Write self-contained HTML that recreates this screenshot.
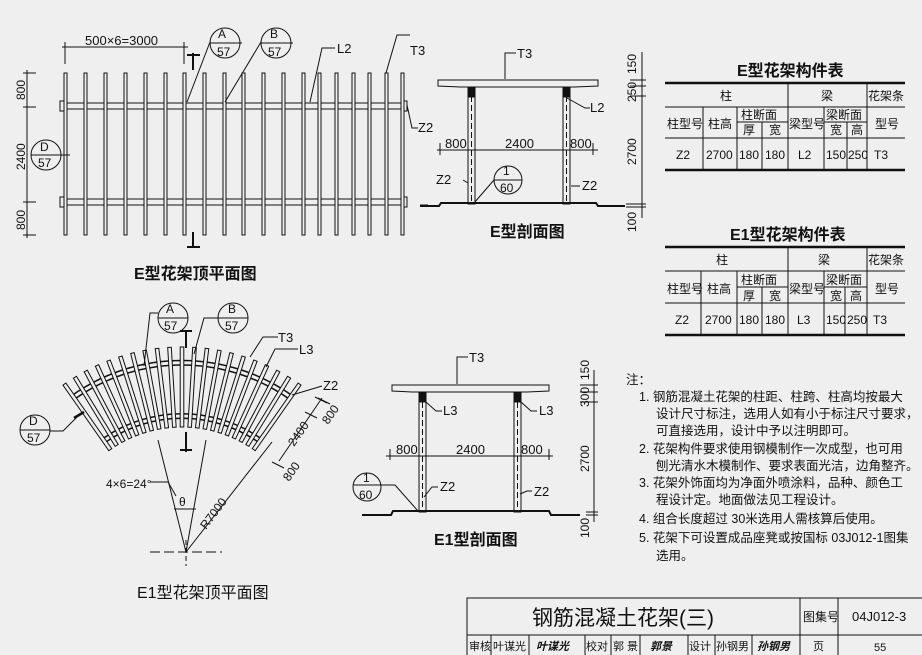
<!DOCTYPE html>
<html><head><meta charset="utf-8"><style>
html,body{margin:0;padding:0;background:#efefef;}
svg{display:block;}
text{font-family:"Liberation Sans","Noto Sans CJK SC",sans-serif;fill:#111;}
</style></head><body>
<svg width="922" height="655" viewBox="0 0 922 655" xmlns="http://www.w3.org/2000/svg">
<rect width="922" height="655" fill="#efefef"/>
<g stroke="#111" fill="none" stroke-width="1">
<rect x="62" y="103" width="343" height="6" fill="#efefef"/>
<rect x="62" y="199" width="343" height="6" fill="#efefef"/>
<rect x="60" y="101" width="4" height="10" fill="#efefef"/><rect x="403" y="101" width="4" height="10" fill="#efefef"/>
<rect x="60" y="197" width="4" height="10" fill="#efefef"/><rect x="403" y="197" width="4" height="10" fill="#efefef"/>
<g fill="#efefef">
<rect x="64" y="73" width="3" height="162"/><rect x="84" y="73" width="3" height="162"/><rect x="104" y="73" width="3" height="162"/>
<rect x="124" y="73" width="3" height="162"/><rect x="144" y="73" width="3" height="162"/><rect x="164" y="73" width="3" height="162"/>
<rect x="183" y="73" width="3" height="162"/><rect x="203" y="73" width="3" height="162"/><rect x="223" y="73" width="3" height="162"/>
<rect x="242" y="73" width="3" height="162"/><rect x="262" y="73" width="3" height="162"/><rect x="282" y="73" width="3" height="162"/>
<rect x="302" y="73" width="3" height="162"/><rect x="318" y="73" width="3" height="162"/><rect x="335" y="73" width="3" height="162"/>
<rect x="352" y="73" width="3" height="162"/><rect x="368" y="73" width="3" height="162"/><rect x="385" y="73" width="3" height="162"/>
<rect x="401" y="73" width="3" height="162"/>
</g>
<line x1="62" y1="47" x2="188" y2="47"/><line x1="65" y1="42" x2="65" y2="64"/><line x1="184" y1="42" x2="184" y2="64"/>
<line x1="27" y1="70" x2="27" y2="238"/>
<line x1="23" y1="73" x2="36" y2="73"/><line x1="23" y1="107" x2="36" y2="107"/><line x1="23" y1="202" x2="36" y2="202"/><line x1="23" y1="235" x2="36" y2="235"/>
<line x1="193" y1="53" x2="193" y2="70" stroke-width="2"/><line x1="187" y1="55" x2="200" y2="55" stroke-width="2"/>
<line x1="193" y1="232" x2="193" y2="248" stroke-width="2"/><line x1="187" y1="247" x2="200" y2="247" stroke-width="2"/>
<circle cx="225" cy="43" r="15"/><line x1="210" y1="43" x2="242" y2="43"/><polyline points="210,42 187,102"/>
<circle cx="276" cy="43" r="15"/><line x1="261" y1="43" x2="293" y2="43"/><polyline points="261,42 225,102"/>
<circle cx="46" cy="155" r="15"/><line x1="31" y1="155" x2="70" y2="155"/>
<polyline points="310,102 322,48 335,48"/>
<polyline points="386,73 397,35 410,35"/>
<polyline points="407,105 412,128 418,128"/>
<line x1="420" y1="205" x2="428" y2="205"/>
<path d="M438,80 L598,80 L598,86 L575,87 L460,87 L438,86 Z" fill="#efefef"/>
<rect x="468" y="87" width="7" height="117" fill="#efefef"/><rect x="563" y="87" width="7" height="117" fill="#efefef"/>
<line x1="471.5" y1="96" x2="471.5" y2="204" stroke-dasharray="6,3"/><line x1="566.5" y1="96" x2="566.5" y2="204" stroke-dasharray="6,3"/>
<rect x="468" y="87" width="7" height="10" fill="#111"/><rect x="563" y="87" width="7" height="10" fill="#111"/>
<polyline points="420,206 439,206 441,203 596,203 598,206 625,206" stroke-width="2"/>
<line x1="437" y1="150" x2="598" y2="150"/>
<line x1="440" y1="143" x2="440" y2="155"/><line x1="593" y1="143" x2="593" y2="155"/>
<polyline points="505,79 505,53 516,53"/>
<polyline points="567,98 585,108 590,108"/>
<polyline points="463,180 468,183"/><polyline points="571,186 580,186"/>
<circle cx="508" cy="180" r="14"/><line x1="494" y1="180" x2="522" y2="180"/><polyline points="494,180 474,203"/>
<line x1="642" y1="52" x2="642" y2="218"/>
<line x1="630" y1="80" x2="646" y2="80"/><line x1="630" y1="86" x2="646" y2="86"/><line x1="630" y1="96" x2="646" y2="96"/><line x1="626" y1="204" x2="646" y2="204"/><line x1="626" y1="207" x2="646" y2="207"/>
<line x1="665" y1="83" x2="905" y2="83" stroke-width="2.5"/>
<line x1="665" y1="170" x2="905" y2="170" stroke-width="2.5"/>
<line x1="665" y1="107" x2="905" y2="107"/><line x1="665" y1="138" x2="905" y2="138"/>
<line x1="737" y1="122" x2="788" y2="122"/><line x1="824" y1="122" x2="867" y2="122"/>
<line x1="703" y1="107" x2="703" y2="170"/><line x1="737" y1="107" x2="737" y2="170"/><line x1="762" y1="122" x2="762" y2="170"/>
<line x1="788" y1="83" x2="788" y2="170"/><line x1="824" y1="107" x2="824" y2="170"/><line x1="847" y1="122" x2="847" y2="170"/><line x1="867" y1="83" x2="867" y2="170"/>
<line x1="665" y1="247" x2="905" y2="247" stroke-width="2.5"/>
<line x1="665" y1="335" x2="905" y2="335" stroke-width="2.5"/>
<line x1="665" y1="271" x2="905" y2="271"/><line x1="665" y1="303" x2="905" y2="303"/>
<line x1="737" y1="287" x2="788" y2="287"/><line x1="824" y1="287" x2="867" y2="287"/>
<line x1="701" y1="271" x2="701" y2="335"/><line x1="737" y1="271" x2="737" y2="335"/><line x1="762" y1="287" x2="762" y2="335"/>
<line x1="788" y1="247" x2="788" y2="335"/><line x1="824" y1="271" x2="824" y2="335"/><line x1="845" y1="287" x2="845" y2="335"/><line x1="867" y1="247" x2="867" y2="335"/>
<path d="M392,385 L549,385 L549,391 L527,392 L412,392 L392,391 Z" fill="#efefef"/>
<rect x="419" y="392" width="7" height="120" fill="#efefef"/><rect x="514" y="392" width="7" height="120" fill="#efefef"/>
<line x1="422.5" y1="402" x2="422.5" y2="512" stroke-dasharray="6,3"/><line x1="517.5" y1="402" x2="517.5" y2="512" stroke-dasharray="6,3"/>
<rect x="419" y="392" width="7" height="10" fill="#111"/><rect x="514" y="392" width="7" height="10" fill="#111"/>
<polyline points="362,515 391,515 393,511 549,511 551,515 580,515" stroke-width="2"/>
<line x1="386" y1="456" x2="553" y2="456"/>
<line x1="390" y1="449" x2="390" y2="460"/><line x1="549" y1="449" x2="549" y2="460"/>
<polyline points="457,384 457,357 468,357"/>
<polyline points="426,402 436,411 442,411"/><polyline points="521,402 531,411 537,411"/>
<polyline points="424,497 432,487 438,487"/><polyline points="520,494 527,491 532,491"/>
<circle cx="367" cy="487" r="14"/><line x1="353" y1="485" x2="395" y2="485"/><polyline points="395,485 418,511"/>
<line x1="594" y1="370" x2="594" y2="522"/>
<line x1="580" y1="385" x2="598" y2="385"/><line x1="580" y1="392" x2="598" y2="392"/><line x1="580" y1="402" x2="598" y2="402"/><line x1="586" y1="512" x2="598" y2="512"/><line x1="586" y1="515" x2="598" y2="515"/>
<path d="M72.6,397.8 A188,188 0 0 1 291.4,397.8" stroke-width="6"/>
<path d="M72.6,397.8 A188,188 0 0 1 291.4,397.8" stroke="#efefef" stroke-width="3"/>
<path d="M104,440.6 A136,136 0 0 1 260,440.6" stroke-width="6"/>
<path d="M104,440.6 A136,136 0 0 1 260,440.6" stroke="#efefef" stroke-width="3"/>
<g transform="translate(182,552)" fill="#efefef">
<rect x="-1.8" y="-205" width="3.6" height="80" transform="rotate(-35)"/>
<rect x="-1.8" y="-205" width="3.6" height="80" transform="rotate(-31.5)"/>
<rect x="-1.8" y="-205" width="3.6" height="80" transform="rotate(-28)"/>
<rect x="-1.8" y="-205" width="3.6" height="80" transform="rotate(-24.5)"/>
<rect x="-1.8" y="-205" width="3.6" height="80" transform="rotate(-21)"/>
<rect x="-1.8" y="-205" width="3.6" height="80" transform="rotate(-17.5)"/>
<rect x="-1.8" y="-205" width="3.6" height="80" transform="rotate(-14)"/>
<rect x="-1.8" y="-205" width="3.6" height="80" transform="rotate(-10.5)"/>
<rect x="-1.8" y="-205" width="3.6" height="80" transform="rotate(-7)"/>
<rect x="-1.8" y="-205" width="3.6" height="80" transform="rotate(-3.5)"/>
<rect x="-1.8" y="-205" width="3.6" height="80"/>
<rect x="-1.8" y="-205" width="3.6" height="80" transform="rotate(3.5)"/>
<rect x="-1.8" y="-205" width="3.6" height="80" transform="rotate(7)"/>
<rect x="-1.8" y="-205" width="3.6" height="80" transform="rotate(10.5)"/>
<rect x="-1.8" y="-205" width="3.6" height="80" transform="rotate(14)"/>
<rect x="-1.8" y="-205" width="3.6" height="80" transform="rotate(17.5)"/>
<rect x="-1.8" y="-205" width="3.6" height="80" transform="rotate(21)"/>
<rect x="-1.8" y="-205" width="3.6" height="80" transform="rotate(24.5)"/>
<rect x="-1.8" y="-205" width="3.6" height="80" transform="rotate(28)"/>
<rect x="-1.8" y="-205" width="3.6" height="80" transform="rotate(31.5)"/>
<rect x="-1.8" y="-205" width="3.6" height="80" transform="rotate(35)"/>
</g>
<line x1="186" y1="330" x2="186" y2="348" stroke-width="2"/><line x1="180" y1="331" x2="192" y2="331" stroke-width="2"/>
<line x1="186" y1="432" x2="186" y2="452" stroke-width="2"/><line x1="180" y1="450" x2="192" y2="450" stroke-width="2"/>
<circle cx="173" cy="318" r="15"/><line x1="158" y1="318" x2="188" y2="318"/><polyline points="158,313 150,313 144,366"/>
<circle cx="233" cy="318" r="15"/><line x1="218" y1="318" x2="248" y2="318"/><polyline points="218,318 204,318 194,354"/>
<circle cx="35" cy="430" r="15"/><line x1="20" y1="430" x2="50" y2="430"/><polyline points="50,431 63,431 80,414"/>
<line x1="74" y1="418" x2="84" y2="412" stroke-width="2.5"/>
<polyline points="250,357 263,337 278,337"/><polyline points="266,367 275,349 298,349"/><polyline points="292,395 322,386"/>
<line x1="186" y1="552" x2="158" y2="440"/><line x1="186" y1="552" x2="206" y2="440"/><line x1="186" y1="552" x2="272" y2="442"/>
<line x1="150" y1="552" x2="222" y2="552" stroke-dasharray="10,4"/><line x1="186" y1="540" x2="186" y2="566" stroke-dasharray="5,3"/>
<line x1="174" y1="509" x2="196" y2="509"/><polyline points="150,482 168,482 176,496"/>
<line x1="279" y1="461" x2="322" y2="398"/><line x1="272" y1="462" x2="284" y2="468"/><line x1="315" y1="397" x2="327" y2="403"/><line x1="305" y1="412" x2="317" y2="418"/><line x1="318" y1="398" x2="330" y2="404"/>
<rect x="467" y="598" width="460" height="60"/>
<line x1="467" y1="635" x2="922" y2="635"/>
<line x1="800" y1="598" x2="800" y2="655"/><line x1="838" y1="598" x2="838" y2="655"/>
<line x1="491" y1="635" x2="491" y2="655"/><line x1="529" y1="635" x2="529" y2="655"/><line x1="585" y1="635" x2="585" y2="655"/>
<line x1="611" y1="635" x2="611" y2="655"/><line x1="640" y1="635" x2="640" y2="655"/><line x1="688" y1="635" x2="688" y2="655"/>
<line x1="715" y1="635" x2="715" y2="655"/><line x1="752" y1="635" x2="752" y2="655"/>
</g>
<g font-size="13">
<text x="85" y="45">500×6=3000</text>
<text x="218" y="38" font-size="12">A</text><text x="217" y="56" font-size="12">57</text>
<text x="270" y="38" font-size="12">B</text><text x="268" y="56" font-size="12">57</text>
<text x="40" y="151" font-size="12">D</text><text x="38" y="167" font-size="12">57</text>
<text x="337" y="53">L2</text><text x="410" y="55">T3</text><text x="418" y="132">Z2</text>
<text transform="translate(25,100) rotate(-90)" font-size="12">800</text>
<text transform="translate(25,170) rotate(-90)" font-size="12">2400</text>
<text transform="translate(25,230) rotate(-90)" font-size="12">800</text>
<text x="134" y="279" font-size="16" font-weight="bold">E型花架顶平面图</text>
<text x="517" y="58">T3</text><text x="590" y="112">L2</text>
<text x="445" y="148">800</text><text x="505" y="148">2400</text><text x="570" y="148">800</text>
<text x="436" y="184">Z2</text><text x="582" y="190">Z2</text>
<text x="503" y="175" font-size="12">1</text><text x="500" y="192" font-size="12">60</text>
<text x="490" y="237" font-size="16" font-weight="bold">E型剖面图</text>
<text transform="translate(636,74) rotate(-90)" font-size="12">150</text>
<text transform="translate(636,102) rotate(-90)" font-size="12">250</text>
<text transform="translate(636,165) rotate(-90)" font-size="12">2700</text>
<text transform="translate(636,232) rotate(-90)" font-size="12">100</text>
<g font-size="12">
<text x="737" y="76" font-size="16" font-weight="bold">E型花架构件表</text>
<text x="720" y="100">柱</text><text x="821" y="100">梁</text><text x="868" y="100">花架条</text>
<text x="667" y="128">柱型号</text><text x="708" y="128">柱高</text><text x="741" y="119">柱断面</text>
<text x="743" y="134">厚</text><text x="769" y="134">宽</text><text x="789" y="128">梁型号</text><text x="826" y="119">梁断面</text>
<text x="830" y="134">宽</text><text x="851" y="134">高</text><text x="875" y="128">型号</text>
<text x="676" y="159">Z2</text><text x="706" y="159">2700</text><text x="739" y="159">180</text><text x="765" y="159">180</text>
<text x="798" y="159">L2</text><text x="826" y="159">150</text><text x="848" y="159">250</text><text x="874" y="159">T3</text>
<text x="730" y="240" font-size="16" font-weight="bold">E1型花架构件表</text>
<text x="716" y="264">柱</text><text x="818" y="264">梁</text><text x="868" y="264">花架条</text>
<text x="667" y="293">柱型号</text><text x="707" y="293">柱高</text><text x="741" y="284">柱断面</text>
<text x="743" y="300">厚</text><text x="769" y="300">宽</text><text x="789" y="293">梁型号</text><text x="826" y="284">梁断面</text>
<text x="830" y="300">宽</text><text x="850" y="300">高</text><text x="875" y="293">型号</text>
<text x="675" y="324">Z2</text><text x="705" y="324">2700</text><text x="739" y="324">180</text><text x="765" y="324">180</text>
<text x="797" y="324">L3</text><text x="826" y="324">150</text><text x="847" y="324">250</text><text x="873" y="324">T3</text>
</g>
<text x="469" y="362">T3</text><text x="443" y="415">L3</text><text x="539" y="415">L3</text>
<text x="396" y="454">800</text><text x="456" y="454">2400</text><text x="521" y="454">800</text>
<text x="440" y="491">Z2</text><text x="534" y="496">Z2</text>
<text x="363" y="482" font-size="12">1</text><text x="359" y="499" font-size="12">60</text>
<text x="434" y="545" font-size="16" font-weight="bold">E1型剖面图</text>
<text transform="translate(589,380) rotate(-90)" font-size="12">150</text>
<text transform="translate(589,407) rotate(-90)" font-size="12">300</text>
<text transform="translate(589,472) rotate(-90)" font-size="12">2700</text>
<text transform="translate(589,538) rotate(-90)" font-size="12">100</text>
<text x="166" y="313" font-size="12">A</text><text x="164" y="330" font-size="12">57</text>
<text x="228" y="313" font-size="12">B</text><text x="225" y="330" font-size="12">57</text>
<text x="29" y="425" font-size="12">D</text><text x="27" y="442" font-size="12">57</text>
<text x="278" y="342">T3</text><text x="299" y="354">L3</text><text x="323" y="390">Z2</text>
<text x="106" y="488" font-size="12">4×6=24°</text><text x="179" y="506" font-size="12">θ</text>
<text transform="translate(206,530) rotate(-53)" font-size="12">R7000</text>
<text transform="translate(294,447) rotate(-55)" font-size="12">2400</text>
<text transform="translate(328,425) rotate(-55)" font-size="12">800</text>
<text transform="translate(289,482) rotate(-55)" font-size="12">800</text>
<text x="137" y="598" font-size="16">E1型花架顶平面图</text>
<g font-size="12.5">
<text x="626" y="384">注：</text>
<text x="639" y="401">1. 钢筋混凝土花架的柱距、柱跨、柱高均按最大</text>
<text x="656" y="418">设计尺寸标注，选用人如有小于标注尺寸要求，</text>
<text x="656" y="435">可直接选用，设计中予以注明即可。</text>
<text x="639" y="453">2. 花架构件要求使用钢模制作一次成型，也可用</text>
<text x="656" y="470">刨光清水木模制作、要求表面光洁，边角整齐。</text>
<text x="639" y="487">3. 花架外饰面均为净面外喷涂料，品种、颜色工</text>
<text x="656" y="504">程设计定。地面做法见工程设计。</text>
<text x="639" y="523">4. 组合长度超过 30米选用人需核算后使用。</text>
<text x="639" y="542">5. 花架下可设置成品座凳或按国标 03J012-1图集</text>
<text x="656" y="560">选用。</text>
</g>
<text x="532" y="625" font-size="21">钢筋混凝土花架(三)</text>
<text x="803" y="621" font-size="12">图集号</text><text x="852" y="621" font-size="13">04J012-3</text>
<g font-size="11">
<text x="469" y="650">审核</text><text x="493" y="650">叶谋光</text><text x="536" y="650" font-style="italic" font-weight="bold">叶谋光</text>
<text x="586" y="650">校对</text><text x="613" y="650">郭 景</text><text x="650" y="650" font-style="italic" font-weight="bold">郭景</text>
<text x="689" y="650">设计</text><text x="716" y="650">孙钢男</text><text x="757" y="650" font-style="italic" font-weight="bold">孙钢男</text>
<text x="813" y="650">页</text><text x="874" y="651">55</text>
</g>
</g>
</svg>
</body></html>
